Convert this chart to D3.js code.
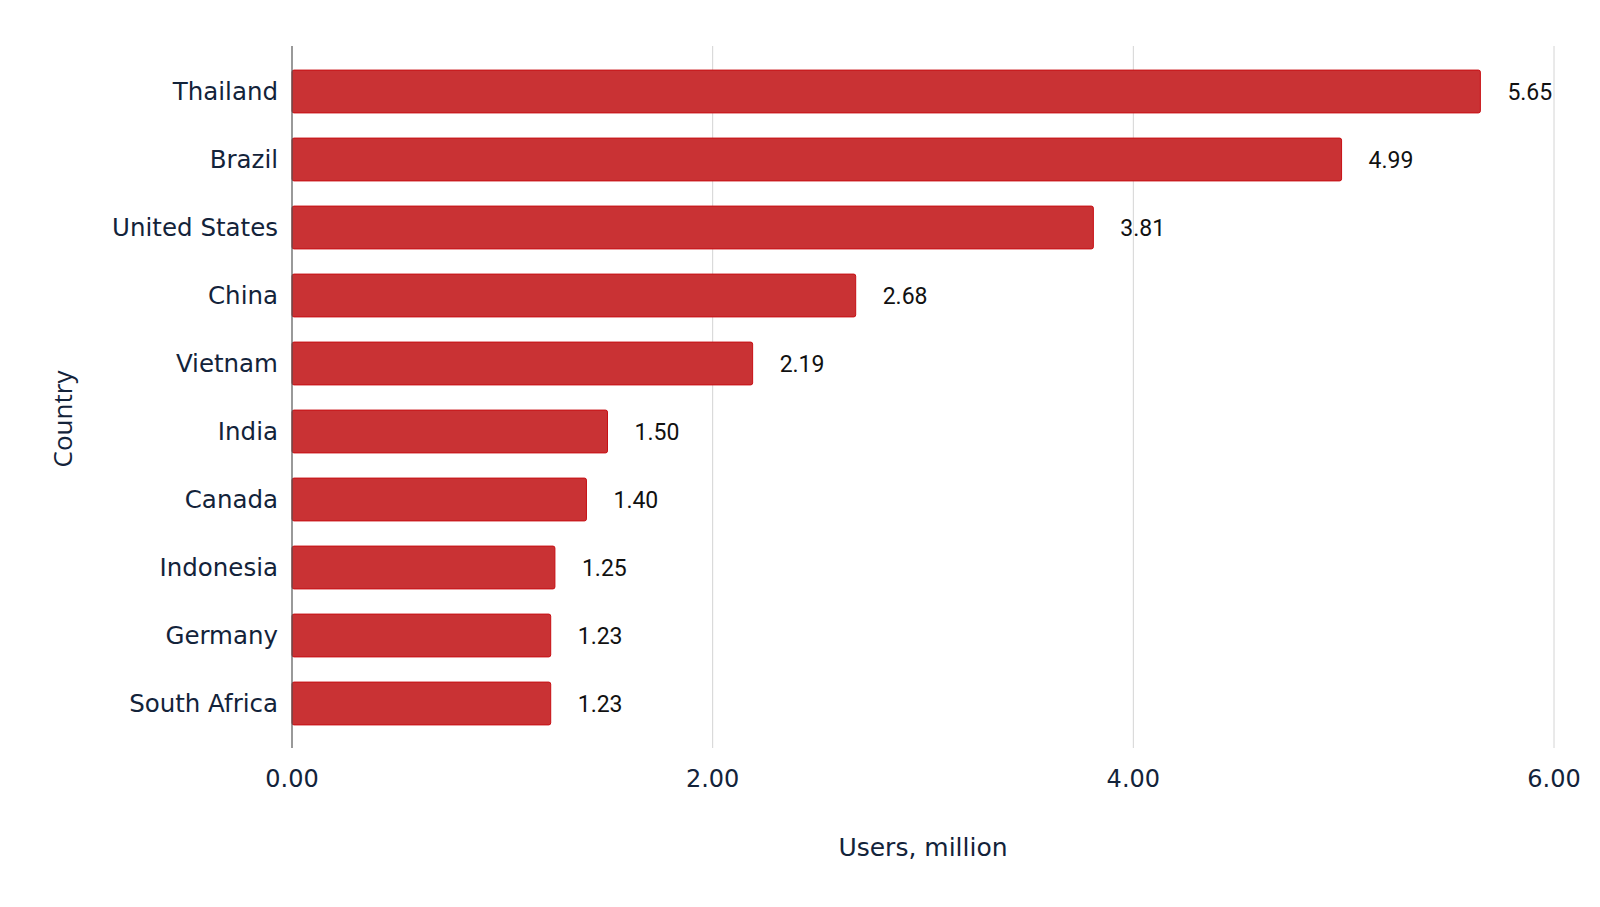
<html>
<head>
<script src="https://d3js.org/d3.v7.min.js"></script>
<style>
  html, body { margin: 0; padding: 0; background: #fff; overflow: hidden; }
  svg { display: block; }
</style>
</head>
<body>
<script>
    // data
    var countries = ["Thailand", "Brazil", "United States", "China", "Vietnam",
                     "India", "Canada", "Indonesia", "Germany", "South Africa"];
    var users = [5.65, 4.99, 3.81, 2.68, 2.19, 1.50, 1.40, 1.25, 1.23, 1.23];
    var xTicks = [0, 2, 4, 6];

    var svgWidth = 1600;
    var svgHeight = 907;
    var navy = "#13233a";
    var plotTop = 46, plotBottom = 748;

    var svg = d3.select("body").append("svg")
        .attr("width", svgWidth)
        .attr("height", svgHeight);

    var x = d3.scaleLinear().domain([0, 6]).range([292, 1554]);
    var y = d3.scaleBand().domain(countries)
        .range([57.5, 737.5])
        .paddingInner(0.37)
        .paddingOuter(0.185);

    // gridlines
    svg.append("g").selectAll("line")
        .data(xTicks.filter(function (d) { return d > 0; }))
        .enter().append("line")
        .attr("x1", d => x(d)).attr("x2", d => x(d))
        .attr("y1", plotTop).attr("y2", plotBottom)
        .style("stroke", "#d4d4d4")
        .style("stroke-width", 1);

    // bars
    svg.append("g").selectAll("rect")
        .data(users)
        .enter().append("rect")
        .attr("x", x(0))
        .attr("y", (d, i) => y(countries[i]))
        .attr("width", d => x(d) - x(0))
        .attr("height", y.bandwidth())
        .attr("rx", 2)
        .style("fill", "#c93234")
        .style("stroke", "#c80f14")
        .style("stroke-width", 1);

    // value labels
    svg.append("g").selectAll("text")
        .data(users)
        .enter().append("text")
        .attr("x", d => x(d) + 27)
        .attr("y", (d, i) => y(countries[i]) + y.bandwidth() / 2)
        .attr("dy", "0.35em")
        .style("font-family", "Roboto")
        .style("font-size", "23px")
        .style("fill", "#111")
        .text(d => d.toFixed(2));

    // y axis line
    svg.append("line")
        .attr("x1", x(0)).attr("x2", x(0))
        .attr("y1", plotTop).attr("y2", plotBottom)
        .style("stroke", "#555")
        .style("stroke-width", 1.2);

    // category labels
    svg.append("g").selectAll("text")
        .data(countries)
        .enter().append("text")
        .attr("x", 278)
        .attr("y", d => y(d) + y.bandwidth() / 2)
        .attr("dy", "0.35em")
        .style("text-anchor", "end")
        .style("font-family", "DejaVu Sans")
        .style("font-size", "24.5px")
        .style("fill", navy)
        .text(d => d);

    // x tick labels
    svg.append("g").selectAll("text")
        .data(xTicks)
        .enter().append("text")
        .attr("x", d => x(d))
        .attr("y", 779)
        .attr("dy", "0.35em")
        .style("text-anchor", "middle")
        .style("font-family", "DejaVu Sans")
        .style("font-size", "24px")
        .style("fill", navy)
        .text(d => d.toFixed(2));

    // axis titles
    svg.append("text")
        .attr("x", 923)
        .attr("y", 847)
        .attr("dy", "0.35em")
        .style("text-anchor", "middle")
        .style("font-family", "DejaVu Sans")
        .style("font-size", "25px")
        .style("fill", navy)
        .text("Users, million");

    svg.append("text")
        .attr("transform", "translate(63,419) rotate(-90)")
        .attr("dy", "0.35em")
        .style("text-anchor", "middle")
        .style("font-family", "Open Sans")
        .style("font-size", "26px")
        .style("fill", navy)
        .text("Country");
</script>
</body>
</html>
